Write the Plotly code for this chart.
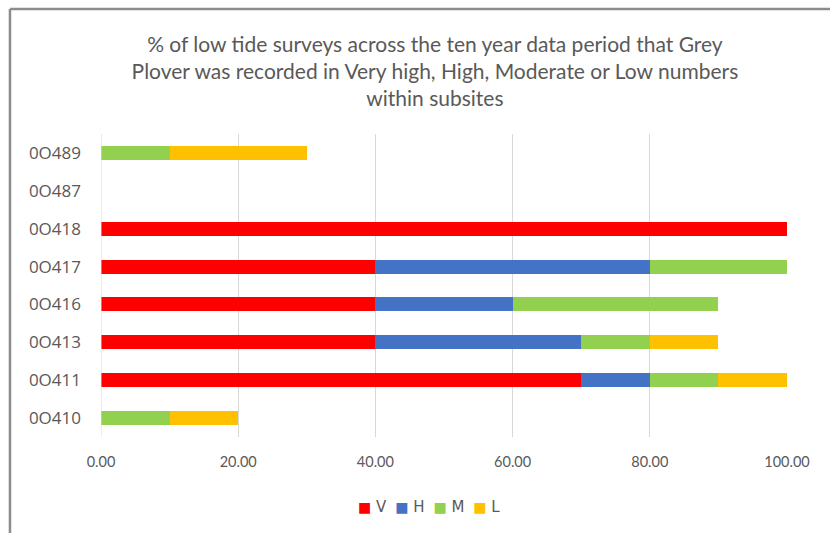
import plotly.graph_objects as go

# Subsites, listed bottom to top
subsites = ["0O410", "0O411", "0O413", "0O416", "0O417", "0O418", "0O487", "0O489"]

# % of surveys per abundance class
very_high = [0, 70, 40, 40, 40, 100, 0, 0]
high      = [0, 10, 30, 20, 40, 0, 0, 0]
moderate  = [10, 10, 10, 30, 20, 0, 0, 10]
low       = [10, 10, 10, 0, 0, 0, 0, 20]

x_ticks = [0, 20, 40, 60, 80, 100]
x_tick_labels = ["0.00", "20.00", "40.00", "60.00", "80.00", "100.00"]

series = [
    ("V", very_high, "#FF0000"),
    ("H", high, "#4472C4"),
    ("M", moderate, "#92D050"),
    ("L", low, "#FFC000"),
]

fig = go.Figure()
for name, vals, col in series:
    fig.add_trace(go.Bar(
        y=subsites, x=vals, name=name, orientation="h",
        marker=dict(color=col, line=dict(width=0)),
        hoverinfo="x+y+name", showlegend=False,
    ))

grey = "#595959"

# compact legend row: coloured square followed by series name
legend_text = "  ".join(
    f"<span style='color:{col}'>■</span><span style='font-size:15px'> {name}</span>"
    for name, _, col in series
)

fig.update_layout(
    barmode="stack",
    bargap=0.63,
    width=830, height=533,
    margin=dict(l=101, r=43, t=134, b=96),
    paper_bgcolor="white",
    plot_bgcolor="white",
    font=dict(family="Lato, Open Sans, sans-serif", color=grey),
    title=dict(
        text="% of low tide surveys across the ten year data period that Grey<br>"
             "Plover was recorded in Very high, High, Moderate or Low numbers<br>"
             "within subsites",
        x=0.524, xanchor="center", xref="container",
        y=0.903, yanchor="top", yref="container",
        font=dict(size=21, color=grey, family="Lato, sans-serif"),
    ),
    xaxis=dict(
        range=[0, 100],
        tickvals=x_ticks, ticktext=x_tick_labels,
        showgrid=True, gridcolor="#D9D9D9", gridwidth=1,
        zeroline=False, showline=False,
        tickfont=dict(size=14.5, color=grey, family="Lato, sans-serif"),
        ticks="", ticklabelstandoff=14,
    ),
    yaxis=dict(
        categoryorder="array", categoryarray=subsites,
        showgrid=False, zeroline=False,
        showline=False,
        tickfont=dict(size=17, color=grey, family="Open Sans, sans-serif"),
        ticks="", ticklabelstandoff=19,
    ),
    showlegend=False,
    annotations=[
        dict(text=legend_text, xref="paper", yref="paper",
             x=0.478, y=-0.231, xanchor="center", yanchor="middle",
             showarrow=False, font=dict(size=14, color=grey, family="DejaVu Sans, sans-serif")),
    ],
    shapes=[
        # axis line at zero
        dict(type="line", xref="x", yref="paper", x0=0, x1=0, y0=0, y1=1,
             line=dict(color="#D9D9D9", width=1)),
        # chart border: left and top edges
        dict(type="line", xref="paper", yref="paper",
             x0=-0.1327, x1=-0.1327, y0=-0.3168, y1=1.4125,
             line=dict(color="#8C8C8C", width=2.5), layer="above"),
        dict(type="line", xref="paper", yref="paper",
             x0=-0.1327, x1=1.0627, y0=1.4125, y1=1.4125,
             line=dict(color="#8C8C8C", width=2.5), layer="above"),
    ],
)

fig.write_html("out.html")
